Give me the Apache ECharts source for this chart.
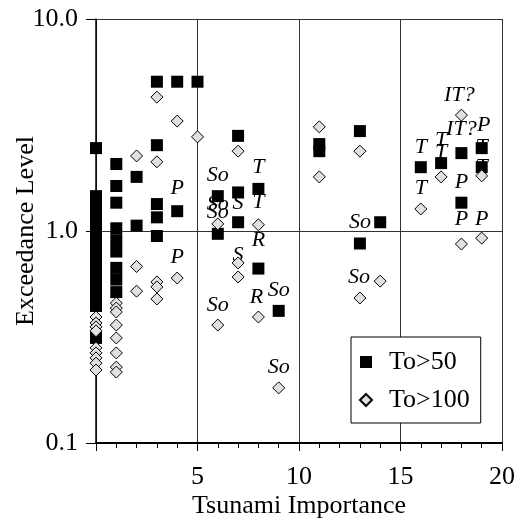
<!DOCTYPE html>
<html>
<head>
<meta charset="utf-8">
<script src="https://cdn.jsdelivr.net/npm/echarts@6/dist/echarts.min.js"></script>
<style>
html,body{margin:0;padding:0;background:#fff;}
#chart{width:521px;height:527px;}
</style>
</head>
<body>
<div id="chart"></div>
<script>
// To>50 (black squares)
var sqX = [0,0,0,0,0,0,0,0,0,0,0,0,0,0,
           1,1,1,1,1,1,1,1,1,
           2,2,
           3,3,3,3,3,
           4,4,
           5,
           6,6,
           7,7,7,
           8,8,
           9,
           11,11,
           13,13,
           14,
           16,
           17,
           18,18,
           19,19];
var sqY = [2.46,1.46,1.31,1.18,1.06,0.947,0.85,0.762,0.684,0.614,0.55,0.494,0.443,0.313,
           2.07,1.63,1.36,1.03,0.905,0.80,0.67,0.59,0.515,
           1.80,1.06,
           5.06,2.54,1.34,1.16,0.947,
           5.06,1.24,
           5.06,
           1.46,0.97,
           2.81,1.52,1.10,
           1.58,0.665,
           0.42,
           2.57,2.38,
           2.96,0.873,
           1.10,
           2.00,
           2.09,
           2.33,1.36,
           2.46,2.00];
// To>100 (grey diamonds)
var diX = [0,0,0,0,0,0,0,0,0,
           1,1,1,1,1,1,1,1,
           2,2,2,
           3,3,3,3,3,
           4,4,
           5,
           6,6,
           7,7,7,
           8,8,
           9,
           11,11,
           13,13,
           14,
           16,
           17,
           18,18,
           19,19];
var diY = [0.393,0.368,0.353,0.338,0.281,0.266,0.252,0.238,0.221,
           0.457,0.433,0.415,0.36,0.313,0.266,0.228,0.216,
           2.26,0.68,0.52,
           4.28,2.12,0.575,0.545,0.478,
           3.30,0.60,
           2.78,
           1.08,0.36,
           2.38,0.707,0.607,
           1.07,0.393,
           0.182,
           3.10,1.80,
           2.38,0.483,
           0.58,
           1.27,
           1.80,
           3.52,0.868,
           1.82,0.926];
// point annotations
var labelX = [4,4,6,6,6,6,7,7,8,8,8,7.9,9,9,13,12.95,16,16,17,17,17.9,18,19.1,19,19,18,18,19];
var labelY = [1.59,0.754,1.84,1.34,1.23,0.448,1.355,0.77,2.0,1.37,0.907,0.489,0.527,0.228,1.10,0.607,2.49,1.59,2.69,2.36,4.38,3.03,3.14,2.49,2.0,1.70,1.14,1.14];
var labelText = ['P','P','So','So','So','So','S','S','T','T','R','R','So','So','So','So','T','T','T','T','IT?','IT?','P','T','T','P','P','P'];
var seriesNames = ['To>50','To>100'];
var xTitle = 'Tsunami Importance';
var yTitle = 'Exceedance Level';

var FONT = '"Liberation Serif", "Times New Roman", Times, serif';
function pairs(xs, ys){ return xs.map(function(x,i){ return [x, ys[i]]; }); }
var labelData = labelX.map(function(x,i){ return {name: labelText[i], value: [x, labelY[i]]}; });

var chart = echarts.init(document.getElementById('chart'), null, {renderer:'canvas'});
chart.setOption({
  animation: false,
  backgroundColor: '#fff',
  grid: {left: 96, right: 19, top: 19, bottom: 84, containLabel: false, outerBoundsMode: 'none'},
  legend: {
    data: seriesNames,
    orient: 'vertical',
    left: 351, top: 337,
    itemWidth: 12, itemHeight: 12, itemGap: 12,
    padding: [12, 11, 10, 8],
    borderColor: '#000', borderWidth: 1,
    backgroundColor: '#fff',
    textStyle: {fontFamily: FONT, fontSize: 26, color: '#000', padding: [0,0,0,12]}
  },
  xAxis: {
    type: 'value', min: 0, max: 20, interval: 5,
    name: xTitle, nameLocation: 'middle', nameGap: 50, nameMoveOverlap: false,
    nameTextStyle: {fontFamily: FONT, fontSize: 26, color: '#000'},
    axisLine: {onZero: false, lineStyle: {color: '#000', width: 2}},
    axisTick: {length: 8, lineStyle: {color: '#000', width: 1}},
    minorTick: {show: true, splitNumber: 5, length: 5, lineStyle: {color: '#000', width: 1}},
    axisLabel: {fontFamily: FONT, fontSize: 26, color: '#000', margin: 21,
      formatter: function(v){ return v === 0 ? '' : String(v); }},
    splitLine: {show: true, lineStyle: {color: '#333', width: 1}}
  },
  yAxis: {
    type: 'log', logBase: 10, min: 0.1, max: 10,
    name: yTitle, nameLocation: 'middle', nameGap: 57, nameMoveOverlap: false,
    nameTextStyle: {fontFamily: FONT, fontSize: 26, color: '#000'},
    axisLine: {show: true, onZero: false, lineStyle: {color: '#000', width: 1.5}},
    axisTick: {show: true, length: 10, lineStyle: {color: '#000', width: 1}},
    axisLabel: {fontFamily: FONT, fontSize: 26, color: '#000', margin: 18,
      formatter: function(v){ return Number(v).toFixed(1); }},
    splitLine: {show: true, lineStyle: {color: '#333', width: 1}}
  },
  series: [
    {
      name: 'labels', type: 'scatter', z: 1,
      symbol: 'circle', symbolSize: 1,
      itemStyle: {color: 'rgba(0,0,0,0)', opacity: 1},
      label: {show: true, position: 'inside', formatter: '{b}',
        fontFamily: FONT, fontStyle: 'italic', fontSize: 22, color: '#000'},
      emphasis: {disabled: true},
      data: labelData
    },
    {
      name: seriesNames[0], type: 'scatter', z: 3,
      symbol: 'rect', symbolSize: 12,
      itemStyle: {color: '#000', borderColor: '#000', borderWidth: 0, opacity: 1},
      data: pairs(sqX, sqY)
    },
    {
      name: seriesNames[1], type: 'scatter', z: 4,
      symbol: 'diamond', symbolSize: 12,
      itemStyle: {color: '#e0e0e0', borderColor: '#000', borderWidth: 1, opacity: 1},
      data: pairs(diX, diY)
    }
  ]
});
</script>
</body>
</html>
